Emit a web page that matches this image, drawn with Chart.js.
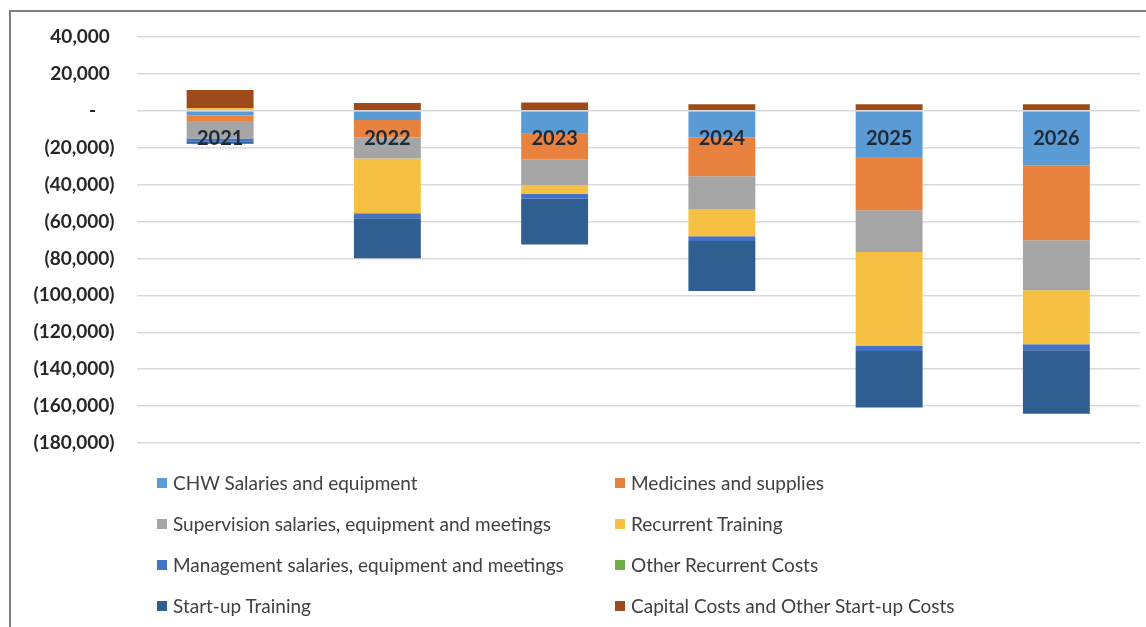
<!DOCTYPE html>
<html>
<head>
<meta charset="utf-8">
<script src="https://cdn.jsdelivr.net/npm/chart.js@4.4.1/dist/chart.umd.min.js"></script>
<style>
  html, body { margin: 0; padding: 0; background: #fff; }
  #wrap { position: relative; width: 1146px; height: 627px; overflow: hidden; font-family: Lato, 'Open Sans', sans-serif; }
  #frame { position: absolute; left: 9px; top: 10px; right: 0; bottom: 0; border-left: 2px solid #808080; border-top: 2px solid #808080; pointer-events: none; }
  #legend { position: absolute; left: 157px; top: 462px; display: grid; grid-template-columns: 458px 440px; }
  #legend .item { display: flex; align-items: center; height: 41px; font-size: 19px; color: #404040; white-space: nowrap; }
  #legend .box { width: 10px; height: 10px; margin-right: 6px; flex: none; }
  canvas { position: absolute; left: 0; top: 0; }
</style>
</head>
<body>
<div id="wrap">
  <canvas id="costs" width="1146" height="627"></canvas>
  <div id="frame"></div>
  <div id="legend"></div>
</div>
<script>
const years = ['2021', '2022', '2023', '2024', '2025', '2026']

// yearly costs per line item (negative = spending)
const chwSalaries = [-2600, -5000, -12400, -14500, -25000, -29500]
const medicines = [-2900, -9500, -13900, -21000, -28900, -40600]
const supervision = [-9500, -11400, -14100, -18000, -22600, -27100]
const recurrentTraining = [1500, -29600, -4500, -14500, -50900, -29300]
const management = [-1800, -2700, -2700, -2500, -2700, -3300]
const otherRecurrent = [0, 0, 0, 0, 0, 0]
const startupTraining = [-1000, -21700, -24800, -27100, -30700, -34300]
const capitalCosts = [9800, 4200, 4500, 3600, 3600, 3600]

const yTicks = { min: -180000, max: 40000, step: 20000 }

const series = [
  { label: 'CHW Salaries and equipment', data: chwSalaries, color: '#5B9BD5' },
  { label: 'Medicines and supplies', data: medicines, color: '#EA823F' },
  { label: 'Supervision salaries, equipment and meetings', data: supervision, color: '#A5A5A5' },
  { label: 'Recurrent Training', data: recurrentTraining, color: '#F6C143' },
  { label: 'Management salaries, equipment and meetings', data: management, color: '#4472C4' },
  { label: 'Other Recurrent Costs', data: otherRecurrent, color: '#70AD47' },
  { label: 'Start-up Training', data: startupTraining, color: '#2F5E91' },
  { label: 'Capital Costs and Other Start-up Costs', data: capitalCosts, color: '#9E4A1A' },
]

// accounting style: 40,000 / (20,000) / -
const formatAmount = v => {
  if (v === 0) return '-    '
  const s = Math.abs(v).toLocaleString('en-US')
  return v < 0 ? '(' + s + ')' : s + ' '
}

// year labels sit just under the zero line, on top of the bars
const yearLabels = {
  id: 'yearLabels',
  afterDatasetsDraw(chart) {
    const { ctx, scales: { x, y } } = chart
    ctx.save()
    ctx.font = 'bold 20px Lato'
    ctx.fillStyle = '#1f2a36'
    ctx.textAlign = 'center'
    ctx.textBaseline = 'middle'
    const y0 = y.getPixelForValue(0) + 28
    chart.data.labels.forEach((label, i) => {
      ctx.fillText(label, x.getPixelForValue(i), y0)
    })
    ctx.restore()
  }
}

const buildLegend = chart => {
  const el = document.getElementById('legend')
  el.innerHTML = ''
  chart.data.datasets.forEach(ds => {
    const item = document.createElement('div')
    item.className = 'item'
    const box = document.createElement('span')
    box.className = 'box'
    box.style.background = ds.backgroundColor
    item.appendChild(box)
    item.appendChild(document.createTextNode(ds.label))
    el.appendChild(item)
  })
}

const chart = new Chart(document.getElementById('costs'), {
  type: 'bar',
  data: {
    labels: years,
    datasets: series.map(s => ({
      label: s.label,
      data: s.data,
      backgroundColor: s.color,
      borderWidth: 0,
      barPercentage: 0.4,
      categoryPercentage: 1,
    }))
  },
  options: {
    responsive: false,
    animation: false,
    layout: { padding: { left: 10, top: 37, right: 6, bottom: 184 } },
    plugins: {
      legend: { display: false },
      tooltip: { enabled: false },
    },
    scales: {
      x: {
        stacked: true,
        display: false,
      },
      y: {
        stacked: true,
        min: yTicks.min,
        max: yTicks.max,
        afterFit: scale => { scale.width = 126.5 },
        border: { display: false },
        grid: { color: '#d9d9d9', lineWidth: 1.5, drawTicks: false },
        ticks: {
          stepSize: yTicks.step,
          padding: 22,
          color: '#262626',
          font: { family: 'Lato', size: 19, weight: 'bold' },
          callback: v => formatAmount(v),
        }
      }
    }
  },
  plugins: [yearLabels]
})

buildLegend(chart)
</script>
</body>
</html>
